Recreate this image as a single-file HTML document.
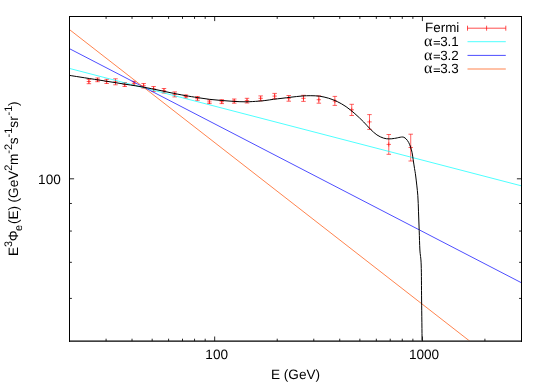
<!DOCTYPE html><html><head><meta charset="utf-8"><style>html,body{margin:0;padding:0;background:#fff;overflow:hidden}svg{display:block;position:absolute;left:0;top:0;will-change:transform;opacity:0.999}text{font-family:"Liberation Sans",sans-serif;font-size:13.6px;fill:#000;text-rendering:geometricPrecision}</style></head><body>
<svg width="545" height="382" viewBox="0 0 545 382">
<rect width="545" height="382" fill="#fff"/>
<defs><clipPath id="c"><rect x="69.5" y="16.5" width="452" height="324"/></clipPath></defs>
<g clip-path="url(#c)" fill="none" stroke-width="0.7">
<g stroke="#ff0000" stroke-width="0.62">
<path d="M88.90 79.30V83.70M86.65 79.30H91.15M86.65 83.70H91.15M86.70 81.50H91.10M88.90 79.40V83.60"/>
<path d="M97.57 78.00V81.70M95.32 78.00H99.82M95.32 81.70H99.82M95.37 79.90H99.77M97.57 77.80V82.00"/>
<path d="M106.68 79.30V83.50M104.43 79.30H108.93M104.43 83.50H108.93M104.48 81.50H108.88M106.68 79.40V83.60"/>
<path d="M115.49 78.80V84.80M113.24 78.80H117.74M113.24 84.80H117.74M113.29 81.80H117.69M115.49 79.70V83.90"/>
<path d="M124.75 82.60V86.50M122.50 82.60H127.00M122.50 86.50H127.00M122.55 84.60H126.95M124.75 82.50V86.70"/>
<path d="M134.03 81.30V85.30M131.78 81.30H136.28M131.78 85.30H136.28M131.83 83.30H136.23M134.03 81.20V85.40"/>
<path d="M143.65 83.50V88.10M141.40 83.50H145.90M141.40 88.10H145.90M141.45 85.80H145.85M143.65 83.70V87.90"/>
<path d="M153.59 86.50V91.40M151.34 86.50H155.84M151.34 91.40H155.84M151.39 88.90H155.79M153.59 86.80V91.00"/>
<path d="M163.98 88.50V93.00M161.73 88.50H166.23M161.73 93.00H166.23M161.78 90.70H166.18M163.98 88.60V92.80"/>
<path d="M174.71 91.90V96.90M172.46 91.90H176.96M172.46 96.90H176.96M172.51 94.40H176.91M174.71 92.30V96.50"/>
<path d="M185.92 95.00V97.90M183.67 95.00H188.17M183.67 97.90H188.17M183.72 96.40H188.12M185.92 94.30V98.50"/>
<path d="M197.44 96.60V100.30M195.19 96.60H199.69M195.19 100.30H199.69M195.24 98.30H199.64M197.44 96.20V100.40"/>
<path d="M209.39 99.90V103.60M207.14 99.90H211.64M207.14 103.60H211.64M207.19 101.90H211.59M209.39 99.80V104.00"/>
<path d="M221.79 99.70V103.60M219.54 99.70H224.04M219.54 103.60H224.04M219.59 101.70H223.99M221.79 99.60V103.80"/>
<path d="M234.23 99.00V103.20M231.98 99.00H236.48M231.98 103.20H236.48M232.03 101.00H236.43M234.23 98.90V103.10"/>
<path d="M247.01 98.30V103.00M244.76 98.30H249.26M244.76 103.00H249.26M244.81 100.60H249.21M247.01 98.50V102.70"/>
<path d="M260.67 95.90V100.80M258.42 95.90H262.92M258.42 100.80H262.92M258.47 98.30H262.87M260.67 96.20V100.40"/>
<path d="M274.65 93.40V98.70M272.40 93.40H276.90M272.40 98.70H276.90M272.45 96.10H276.85M274.65 94.00V98.20"/>
<path d="M288.75 95.50V101.20M286.50 95.50H291.00M286.50 101.20H291.00M286.55 98.20H290.95M288.75 96.10V100.30"/>
<path d="M303.48 95.30V101.40M301.23 95.30H305.73M301.23 101.40H305.73M301.28 98.30H305.68M303.48 96.20V100.40"/>
<path d="M318.85 95.90V103.20M316.60 95.90H321.10M316.60 103.20H321.10M316.65 99.70H321.05M318.85 97.60V101.80"/>
<path d="M334.85 96.40V105.40M332.60 96.40H337.10M332.60 105.40H337.10M332.65 101.00H337.05M334.85 98.90V103.10"/>
<path d="M351.74 104.30V115.50M349.49 104.30H353.99M349.49 115.50H353.99M349.54 109.80H353.94M351.74 107.70V111.90"/>
<path d="M369.48 114.60V129.40M367.23 114.60H371.73M367.23 129.40H371.73M367.28 121.90H371.68M369.48 119.80V124.00"/>
<path d="M388.79 134.50V154.30M386.54 134.50H391.04M386.54 154.30H391.04M386.59 144.40H390.99M388.79 142.30V146.50"/>
<path d="M410.72 134.20V161.00M408.47 134.20H412.97M408.47 161.00H412.97M408.52 147.50H412.92M410.72 145.40V149.60"/>
</g>
<line x1="69.5" y1="68.45" x2="521.5" y2="185.87" stroke="#00ffff"/>
<line x1="69.5" y1="48.70" x2="521.5" y2="282.80" stroke="#0000ff"/>
<line x1="69.5" y1="29.60" x2="521.5" y2="381.39" stroke="#ff4d00"/>
<path d="M50.00 72.30C51.67 72.57 56.75 73.38 60.00 73.90C63.25 74.42 66.17 74.87 69.50 75.40C72.83 75.93 74.92 76.26 80.00 77.06C85.08 77.86 93.33 79.14 100.00 80.20C106.67 81.26 113.33 82.34 120.00 83.40C126.67 84.46 134.17 85.54 140.00 86.54C145.83 87.54 150.00 88.39 155.00 89.40C160.00 90.41 164.93 91.57 170.00 92.60C175.07 93.63 180.82 94.77 185.40 95.60C189.98 96.43 193.47 96.97 197.50 97.60C201.53 98.22 205.55 98.87 209.60 99.35C213.65 99.83 217.75 100.16 221.80 100.50C225.85 100.84 229.87 101.18 233.90 101.40C237.93 101.62 241.97 101.83 246.00 101.80C250.03 101.77 254.77 101.43 258.10 101.20C261.43 100.97 263.43 100.72 266.00 100.40C268.57 100.08 270.83 99.65 273.50 99.30C276.17 98.95 279.08 98.65 282.00 98.30C284.92 97.95 287.67 97.58 291.00 97.20C294.33 96.82 298.70 96.25 302.00 96.00C305.30 95.75 307.87 95.67 310.80 95.70C313.73 95.73 316.65 95.78 319.60 96.20C322.55 96.62 325.55 97.30 328.50 98.20C331.45 99.10 334.37 100.18 337.30 101.60C340.23 103.02 343.17 104.68 346.10 106.70C349.03 108.72 351.97 111.15 354.90 113.70C357.83 116.25 361.13 119.43 363.70 122.00C366.27 124.57 368.10 126.95 370.30 129.10C372.50 131.25 374.70 133.40 376.90 134.90C379.10 136.40 381.48 137.43 383.50 138.10C385.52 138.77 387.17 138.85 389.00 138.90C390.83 138.95 392.67 138.67 394.50 138.40C396.33 138.13 398.72 137.53 400.00 137.30C401.28 137.07 401.55 137.00 402.20 137.00C402.85 137.00 403.23 136.97 403.90 137.30C404.57 137.63 405.40 138.13 406.20 139.00C407.00 139.87 407.97 141.13 408.70 142.50C409.43 143.87 410.03 145.50 410.60 147.20C411.17 148.90 411.67 150.60 412.10 152.70C412.53 154.80 412.80 157.18 413.20 159.80C413.60 162.42 414.08 165.70 414.50 168.40C414.92 171.10 415.15 171.52 415.70 176.00C416.25 180.48 417.33 189.33 417.80 195.30C418.27 201.27 418.27 205.92 418.50 211.80C418.73 217.68 418.97 224.23 419.20 230.60C419.43 236.97 419.57 244.27 419.90 250.00C420.23 255.73 420.92 256.67 421.20 265.00C421.48 273.33 421.45 287.33 421.60 300.00C421.75 312.67 422.02 334.17 422.10 341.00" stroke="#000" stroke-width="1.0"/>
</g>
<g stroke="#000" stroke-width="1" fill="none">
<path d="M69 16.5H522M69.5 16.5V341.6M521.5 16.5V341.6" shape-rendering="crispEdges"/>
<path d="M69 341.1H522" stroke-width="1.3"/>
<path d="M106.08 341.1v-2.4M106.08 16.5v2.4M132.03 341.1v-2.4M132.03 16.5v2.4M152.16 341.1v-2.4M152.16 16.5v2.4M168.60 341.1v-2.4M168.60 16.5v2.4M182.51 341.1v-2.4M182.51 16.5v2.4M194.56 341.1v-2.4M194.56 16.5v2.4M205.18 341.1v-2.4M205.18 16.5v2.4M277.21 341.1v-2.4M277.21 16.5v2.4M313.79 341.1v-2.4M313.79 16.5v2.4M339.74 341.1v-2.4M339.74 16.5v2.4M359.87 341.1v-2.4M359.87 16.5v2.4M376.32 341.1v-2.4M376.32 16.5v2.4M390.22 341.1v-2.4M390.22 16.5v2.4M402.27 341.1v-2.4M402.27 16.5v2.4M412.89 341.1v-2.4M412.89 16.5v2.4M484.92 341.1v-2.4M484.92 16.5v2.4M214.68 341.1v-4.6M214.68 16.5v4.6M422.40 341.1v-4.6M422.40 16.5v4.6M69.5 298.41h2.4M521.5 298.41h-2.4M69.5 262.32h2.4M521.5 262.32h-2.4M69.5 231.05h2.4M521.5 231.05h-2.4M69.5 203.47h2.4M521.5 203.47h-2.4M69.5 178.80h4.6M521.5 178.80h-4.6" stroke-width="0.85"/>
</g>
<text x="216.68" y="359.4" text-anchor="middle">100</text>
<text x="424.00" y="359.4" text-anchor="middle">1000</text>
<text x="60.8" y="183.60" text-anchor="end">100</text>
<text x="295.5" y="379.3" text-anchor="middle">E (GeV)</text>
<text transform="translate(18.10,256.00) rotate(-90)" y="0.00">E</text>
<text transform="translate(18.10,247.06) rotate(-90)" y="-6.30" style="font-size:10.9px">3</text>
<text transform="translate(18.10,241.16) rotate(-90)" y="0.00">&#934;</text>
<text transform="translate(18.10,230.92) rotate(-90)" y="3.40" style="font-size:10.9px">e</text>
<text transform="translate(18.10,224.00) rotate(-90)" y="0.00">(E)</text>
<text transform="translate(18.10,202.45) rotate(-90)" y="0.00">(GeV</text>
<text transform="translate(18.10,170.70) rotate(-90)" y="-6.30" style="font-size:10.9px">2</text>
<text transform="translate(18.10,165.02) rotate(-90)" y="0.00">m</text>
<text transform="translate(18.10,153.67) rotate(-90)" y="-6.30" style="font-size:10.9px">-2</text>
<text transform="translate(18.10,144.29) rotate(-90)" y="0.00">s</text>
<text transform="translate(18.10,137.43) rotate(-90)" y="-6.30" style="font-size:10.9px">-1</text>
<text transform="translate(18.10,127.63) rotate(-90)" y="0.00">sr</text>
<text transform="translate(18.10,115.38) rotate(-90)" y="-6.30" style="font-size:10.9px">-1</text>
<text transform="translate(18.10,105.95) rotate(-90)" y="0.00">)</text>
<text x="459.3" y="31.9" text-anchor="end" style="font-size:13.4px">Fermi</text>
<text x="458.8" y="46.00" text-anchor="end" style="font-size:13.4px">3.1</text>
<text x="424.0" y="45.90" style="font-family:'Liberation Serif',serif;font-size:16px">&#945;</text>
<path d="M433.7 41.50H440" stroke="#000" stroke-width="0.85" fill="none"/><path d="M433.7 44.00H440" stroke="#000" stroke-width="1" fill="none"/>
<text x="458.8" y="59.70" text-anchor="end" style="font-size:13.4px">3.2</text>
<text x="424.0" y="59.70" style="font-family:'Liberation Serif',serif;font-size:16px">&#945;</text>
<path d="M433.7 55.30H440" stroke="#000" stroke-width="0.85" fill="none"/><path d="M433.7 57.80H440" stroke="#000" stroke-width="1" fill="none"/>
<text x="458.8" y="73.30" text-anchor="end" style="font-size:13.4px">3.3</text>
<text x="424.0" y="73.40" style="font-family:'Liberation Serif',serif;font-size:16px">&#945;</text>
<path d="M433.7 69.00H440" stroke="#000" stroke-width="0.85" fill="none"/><path d="M433.7 71.50H440" stroke="#000" stroke-width="1" fill="none"/>
<g fill="none" stroke-width="0.7">
<path stroke="#ff0000" d="M467.5 28.20H505.8M467.5 25.70v5M505.8 25.70v5M486.6 25.70v5"/>
<line x1="467.5" x2="505.8" y1="41.70" y2="41.70" stroke="#00ffff"/>
<line x1="467.5" x2="505.8" y1="55.40" y2="55.40" stroke="#0000ff"/>
<line x1="467.5" x2="505.8" y1="69.00" y2="69.00" stroke="#ff4d00"/>
</g>
</svg></body></html>
